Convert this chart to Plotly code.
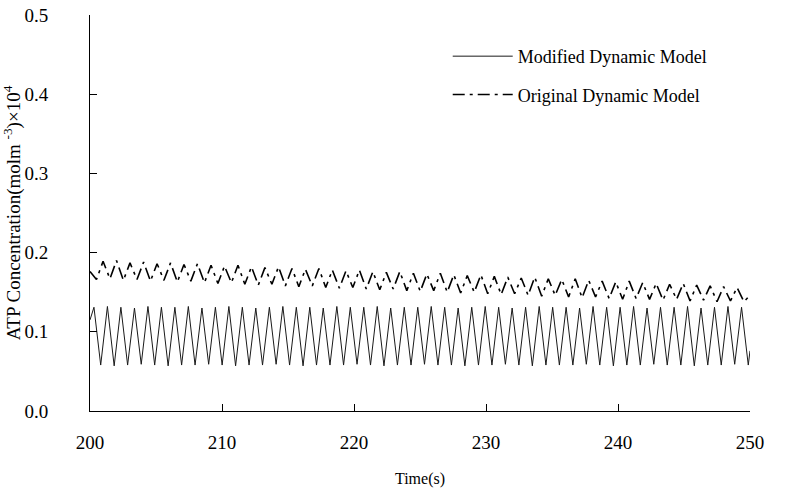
import plotly.graph_objects as go

# ---- Modified Dynamic Model (solid): vertices ----
mod_start_t = [200.00]
mod_start_v = [0.115]
mod_peak_t = [200.30, 201.32, 202.34, 203.37, 204.39, 205.41, 206.43, 207.45, 208.48, 209.50,
              210.52, 211.54, 212.56, 213.59, 214.61, 215.63, 216.65, 217.67, 218.70, 219.72,
              220.74, 221.76, 222.78, 223.81, 224.83, 225.85, 226.87, 227.89, 228.92, 229.94,
              230.96, 231.98, 233.00, 234.03, 235.05, 236.07, 237.09, 238.11, 239.14, 240.16,
              241.18, 242.20, 243.22, 244.25, 245.27, 246.29, 247.31, 248.33, 249.36]
mod_peak_v = [0.131, 0.132, 0.131, 0.130, 0.132, 0.131, 0.131, 0.132, 0.130, 0.131,
              0.132, 0.131, 0.130, 0.131, 0.132, 0.131, 0.131, 0.130, 0.132, 0.131,
              0.131, 0.132, 0.130, 0.131, 0.131, 0.132, 0.131, 0.130, 0.131, 0.132,
              0.131, 0.130, 0.131, 0.132, 0.131, 0.131, 0.130, 0.132, 0.131, 0.131,
              0.132, 0.130, 0.131, 0.131, 0.132, 0.130, 0.131, 0.132, 0.131]
mod_trough_t = [200.81, 201.83, 202.85, 203.88, 204.90, 205.92, 206.94, 207.96, 208.99, 210.01,
                211.03, 212.05, 213.07, 214.10, 215.12, 216.14, 217.16, 218.18, 219.21, 220.23,
                221.25, 222.27, 223.29, 224.32, 225.34, 226.36, 227.38, 228.40, 229.43, 230.45,
                231.47, 232.49, 233.51, 234.54, 235.56, 236.58, 237.60, 238.62, 239.65, 240.67,
                241.69, 242.71, 243.73, 244.76, 245.78, 246.80, 247.82, 248.84, 249.87]
mod_trough_v = [0.058, 0.057, 0.058, 0.059, 0.058, 0.057, 0.058, 0.058, 0.059, 0.058,
                0.057, 0.058, 0.058, 0.059, 0.058, 0.057, 0.058, 0.058, 0.058, 0.059,
                0.058, 0.057, 0.058, 0.058, 0.059, 0.058, 0.058, 0.057, 0.058, 0.058,
                0.059, 0.058, 0.057, 0.058, 0.058, 0.058, 0.059, 0.058, 0.057, 0.058,
                0.058, 0.059, 0.058, 0.058, 0.057, 0.058, 0.058, 0.059, 0.058]
mod_end_t = [250.00]
mod_end_v = [0.076]

# ---- Original Dynamic Model (dash-dot) ----
orig_start_t = [200.00]
orig_start_v = [0.176]
orig_trough_t = [200.49, 201.51, 202.53, 203.56, 204.58, 205.60, 206.62, 207.64, 208.67, 209.69,
                 210.71, 211.73, 212.75, 213.78, 214.80, 215.82, 216.84, 217.86, 218.89, 219.91,
                 220.93, 221.95, 222.97, 224.00, 225.02, 226.04, 227.06, 228.08, 229.11, 230.13,
                 231.15, 232.17, 233.19, 234.22, 235.24, 236.26, 237.28, 238.30, 239.33, 240.35,
                 241.37, 242.39, 243.41, 244.44, 245.46, 246.48, 247.50, 248.52, 249.54]
orig_trough_v = [0.166, 0.167, 0.165, 0.166, 0.164, 0.165, 0.163, 0.164, 0.162, 0.161,
                 0.162, 0.160, 0.159, 0.160, 0.158, 0.157, 0.158, 0.156, 0.155, 0.156,
                 0.154, 0.153, 0.154, 0.152, 0.151, 0.152, 0.150, 0.149, 0.150, 0.148,
                 0.147, 0.148, 0.146, 0.145, 0.146, 0.144, 0.143, 0.144, 0.142, 0.141,
                 0.142, 0.141, 0.140, 0.141, 0.139, 0.140, 0.138, 0.139, 0.138]
orig_peak_t = [200.99, 202.01, 203.03, 204.06, 205.08, 206.10, 207.12, 208.14, 209.17, 210.19,
               211.21, 212.23, 213.25, 214.28, 215.30, 216.32, 217.34, 218.36, 219.39, 220.41,
               221.43, 222.45, 223.47, 224.50, 225.52, 226.54, 227.56, 228.58, 229.61, 230.63,
               231.65, 232.67, 233.69, 234.72, 235.74, 236.76, 237.78, 238.80, 239.83, 240.85,
               241.87, 242.89, 243.91, 244.94, 245.96, 246.98, 248.00, 249.02]
orig_peak_v = [0.189, 0.190, 0.187, 0.188, 0.186, 0.187, 0.185, 0.186, 0.184, 0.183,
               0.184, 0.182, 0.181, 0.182, 0.180, 0.179, 0.180, 0.178, 0.177, 0.178,
               0.176, 0.175, 0.176, 0.174, 0.173, 0.174, 0.172, 0.171, 0.172, 0.170,
               0.169, 0.168, 0.169, 0.167, 0.166, 0.167, 0.165, 0.164, 0.163, 0.164,
               0.162, 0.161, 0.160, 0.161, 0.159, 0.158, 0.157, 0.156]
orig_end_t = [250.00]
orig_end_v = [0.146]

x_ticks = [200, 210, 220, 230, 240, 250]
y_ticks = [0.0, 0.1, 0.2, 0.3, 0.4, 0.5]
y_tick_text = ["0.0", "0.1", "0.2", "0.3", "0.4", "0.5"]


def merge(start_t, start_v, a_t, a_v, b_t, b_v, end_t, end_v):
    pts = list(zip(start_t, start_v)) + list(zip(a_t, a_v)) + list(zip(b_t, b_v)) + list(zip(end_t, end_v))
    pts.sort(key=lambda p: p[0])
    return [p[0] for p in pts], [p[1] for p in pts]


mx, my = merge(mod_start_t, mod_start_v, mod_peak_t, mod_peak_v, mod_trough_t, mod_trough_v, mod_end_t, mod_end_v)
ox, oy = merge(orig_start_t, orig_start_v, orig_peak_t, orig_peak_v, orig_trough_t, orig_trough_v, orig_end_t, orig_end_v)

FONT = "Liberation Serif, Times New Roman, serif"

fig = go.Figure()
fig.add_trace(go.Scatter(x=mx, y=my, mode="lines", name="Modified Dynamic Model",
                         legendgroup="a",
                         line=dict(color="#1a1a1a", width=1)))
fig.add_trace(go.Scatter(x=ox, y=oy, mode="lines", name="Original Dynamic Model",
                         legendgroup="b",
                         line=dict(color="#000000", width=1.6, dash="12px,5px,3px,5px")))

fig.update_layout(
    width=786, height=492,
    margin=dict(l=90, r=36, t=15, b=81),
    paper_bgcolor="white", plot_bgcolor="white",
    font=dict(family=FONT, size=18, color="black"),
    legend=dict(x=0.542, y=0.942, xanchor="left", yanchor="top",
                bgcolor="rgba(0,0,0,0)", itemwidth=60, tracegroupgap=12,
                font=dict(family=FONT, size=18)),
    xaxis=dict(range=[200, 250], tickvals=x_ticks, ticks="inside", ticklen=7,
               tickcolor="black", showline=True, linecolor="black", linewidth=1,
               showgrid=False, zeroline=False, ticklabelstandoff=14, automargin=False,
               tickfont=dict(family=FONT, size=19),
               title=dict(text="Time(s)", font=dict(family=FONT, size=16), standoff=21)),
    yaxis=dict(range=[0, 0.5], tickvals=y_ticks, ticktext=y_tick_text, ticks="inside",
               ticklen=7, tickcolor="black", showline=True, linecolor="black", linewidth=1,
               showgrid=False, zeroline=False, ticklabelstandoff=37, automargin=False,
               tickfont=dict(family=FONT, size=19),
               title=dict(text="ATP Concentration(molm <sup>-3</sup>)×10<sup>4</sup>",
                          font=dict(family=FONT, size=19), standoff=0)),
)

fig.write_html("out.html")
